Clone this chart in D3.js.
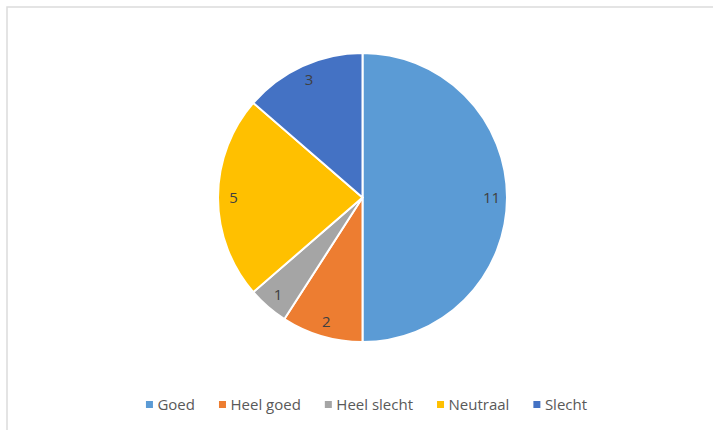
<!DOCTYPE html>
<html><head><meta charset="utf-8">
<script src="https://cdn.jsdelivr.net/npm/d3@7"></script>
<style>
html,body{margin:0;padding:0;background:#fff;}
svg{display:block;}
text{font-family:"Open Sans",sans-serif;}
</style></head>
<body>
<svg id="chart" width="713" height="430"></svg>
<script>
const categories = ["Goed", "Heel goed", "Heel slecht", "Neutraal", "Slecht"];
const values = [11, 2, 1, 5, 3];
const colors = ["#5B9BD5", "#ED7D31", "#A5A5A5", "#FFC000", "#4472C4"];

const svg = d3.select("#chart");
const W = 713, H = 430;

// chart area border
svg.append("rect").attr("x", 7).attr("y", 7).attr("width", 740).attr("height", 460)
  .attr("fill", "#fff").attr("stroke", "#dcdcdc").attr("stroke-width", 1.5);

const cx = 362.5, cy = 197.5, R = 144.5;
const data = categories.map((c, i) => ({ cat: c, value: values[i], color: colors[i] }));
const pie = d3.pie().value(d => d.value).sort(null);
const arcs = pie(data);
const arc = d3.arc().innerRadius(0).outerRadius(R);
const labelArc = d3.arc().innerRadius(129).outerRadius(129);

const g = svg.append("g").attr("transform", `translate(${cx},${cy})`);
g.selectAll("path.slice").data(arcs).join("path")
  .attr("class", "slice")
  .attr("d", arc)
  .attr("fill", d => d.data.color)
  .attr("stroke", "#fff").attr("stroke-width", 2).attr("stroke-linejoin", "round");

g.selectAll("text.lbl").data(arcs).join("text")
  .attr("class", "lbl")
  .attr("transform", d => `translate(${labelArc.centroid(d)})`)
  .attr("text-anchor", "middle").attr("dy", "0.35em")
  .attr("font-size", 15).attr("fill", "#404040")
  .text(d => d.data.value);

// legend
const legend = svg.append("g");
const items = legend.selectAll("g").data(data).join("g");
items.append("rect").attr("width", 7).attr("height", 7).attr("y", -3.5).attr("fill", d => d.color);
items.append("text").attr("x", 11.5).attr("dy", "0.35em").attr("font-size", 15).attr("fill", "#595959").text(d => d.cat);
let x = 0;
const gap = 24;
items.each(function () {
  const w = this.getBBox().width;
  d3.select(this).attr("transform", `translate(${x},0)`);
  x += w + gap;
});
const total = x - gap;
legend.attr("transform", `translate(${(cx + 4) - total / 2},404.5)`);
</script>
</body></html>
